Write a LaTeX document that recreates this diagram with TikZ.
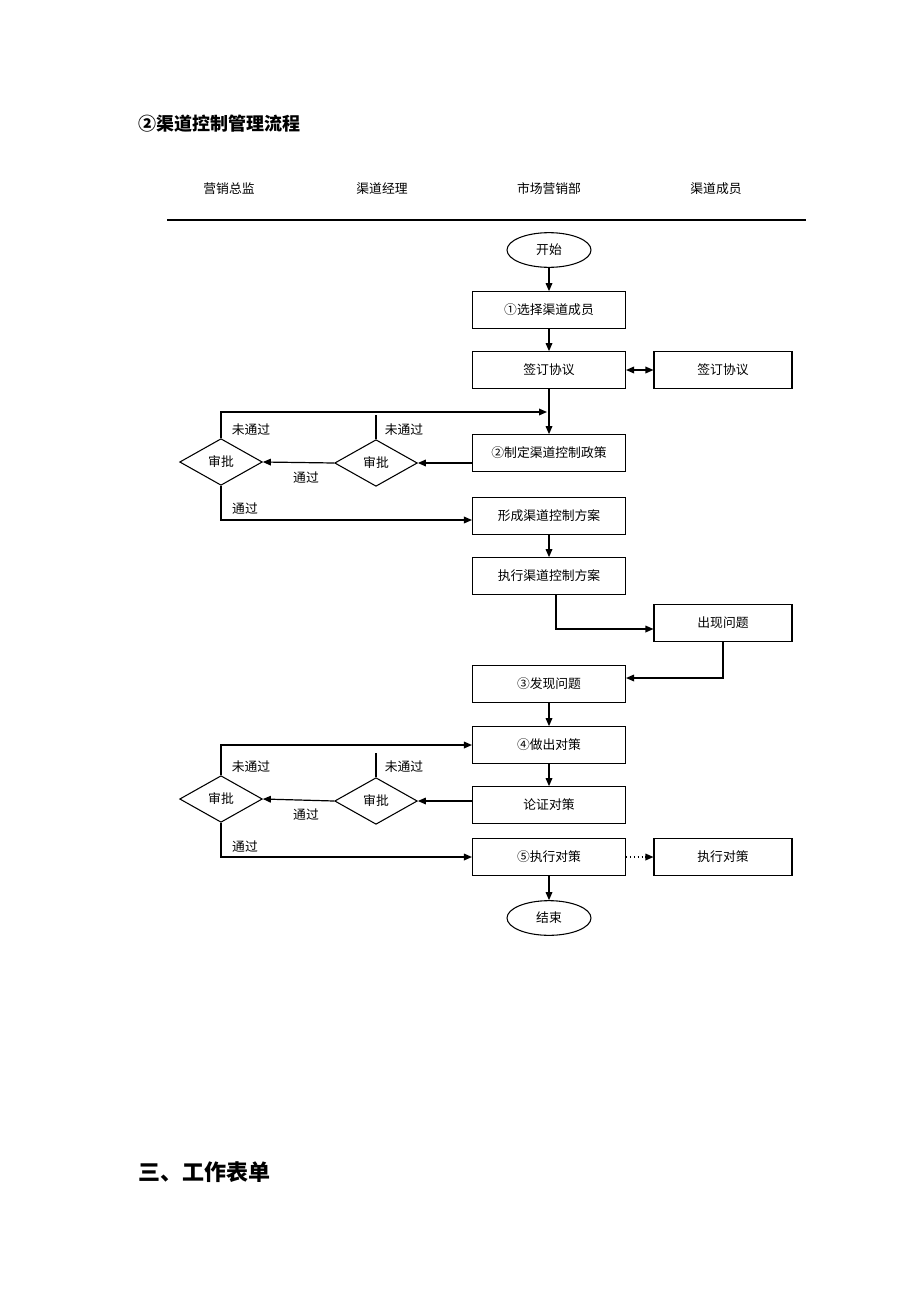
\documentclass[tikz,border=0pt]{standalone}
\usepackage{fontspec}
\setmainfont{Noto Sans CJK SC}
\usetikzlibrary{arrows.meta,shapes.geometric}
\begin{document}
\begin{tikzpicture}[x=0.75pt,y=-0.75pt,
  every node/.style={font=\fontsize{9.6pt}{11pt}\selectfont},
  box/.style={draw,line width=0.8pt,inner sep=0pt,minimum width=114.75pt,minimum height=27.5pt},
  sbox/.style={draw,line width=0.8pt,inner sep=0pt,minimum width=103.5pt,minimum height=27.5pt},
  term/.style={draw,ellipse,line width=0.8pt,inner sep=0pt,minimum width=63pt,minimum height=26pt},
  chk/.style={draw,diamond,line width=0.8pt,inner sep=0pt,minimum width=62pt,minimum height=35pt},
  conn/.style={line width=0.9pt},
  arr/.style={conn,-{Triangle[length=6pt,width=5pt]}},
  darr/.style={conn,{Triangle[length=6pt,width=5pt]}-{Triangle[length=6pt,width=5pt]}},
  lbl/.style={inner sep=0pt}
]
\useasboundingbox (0,0) rectangle (920,1302);

% title
\node[lbl,anchor=west,font=\fontsize{13.5pt}{15pt}\selectfont\bfseries] (title) at (138,124) {②渠道控制管理流程};
% swimlane headers
\node[lbl] (h1) at (229,189) {营销总监};
\node[lbl] (h2) at (382,189) {渠道经理};
\node[lbl] (h3) at (549,189) {市场营销部};
\node[lbl] (h4) at (716,189) {渠道成员};
\coordinate (rl) at (167,220);
\coordinate (rr) at (806,220);
\draw[line width=0.8pt] (rl) -- (rr);

% main column
\node[term] (start) at (549,250) {开始};
\node[box] (b1) at (549,310) {①选择渠道成员};
\node[box] (b2) at (549,370) {签订协议};
\node[sbox] (r1) at (723,370) {签订协议};
\node[box] (b3) at (549,453) {②制定渠道控制政策};
\node[box] (b4) at (549,516) {形成渠道控制方案};
\node[box] (b5) at (549,576) {执行渠道控制方案};
\node[sbox] (r2) at (723,623) {出现问题};
\node[box] (b6) at (549,684) {③发现问题};
\node[box] (b7) at (549,745) {④做出对策};
\node[box] (b8) at (549,805) {论证对策};
\node[box] (b9) at (549,857) {⑤执行对策};
\node[sbox] (r3) at (723,857) {执行对策};
\node[term] (end) at (549,918) {结束};

% diamonds
\node[chk] (d1a) at (221,462) {审批};
\node[chk] (d1b) at (376,463) {审批};
\node[chk] (d2a) at (221,799) {审批};
\node[chk] (d2b) at (376,801) {审批};

% labels
\node[lbl] (l1) at (251,430) {未通过};
\node[lbl] (l2) at (404,430) {未通过};
\node[lbl] (l3) at (306,478) {通过};
\node[lbl] (l4) at (245,509) {通过};
\node[lbl] (l5) at (251,767) {未通过};
\node[lbl] (l6) at (404,767) {未通过};
\node[lbl] (l7) at (306,815) {通过};
\node[lbl] (l8) at (245,847) {通过};

% connectors
\draw[arr] (start.south) -- (b1.north);
\draw[arr] (b1.south) -- (b2.north);
\draw[darr] (b2.east) -- (r1.west);
\draw[arr] (b2.south) -- (b3.north);
\coordinate (j1) at (547,412);
\draw[arr] (d1a.north) |- (j1);
\coordinate (t1) at (376,415);
\draw[conn] (d1b.north) -- (t1);
\draw[arr] (b3.west |- d1b.east) -- (d1b.east);
\draw[arr] (d1b.west) -- (d1a.east);
\draw[arr] (d1a.south) |- ([yshift=-3pt]b4.west);
\draw[arr] (b4.south) -- (b5.north);
\draw[arr] ([xshift=5.25pt]b5.south) |- ([yshift=-4.5pt]r2.west);
\draw[arr] (r2.south) |- ([yshift=4.5pt]b6.east);
\draw[arr] (b6.south) -- (b7.north);
\draw[arr] (b7.south) -- (b8.north);
\draw[arr] (d2a.north) |- (b7.west);
\coordinate (t2) at (376,753);
\draw[conn] (d2b.north) -- (t2);
\draw[arr] (b8.west |- d2b.east) -- (d2b.east);
\draw[arr] (d2b.west) -- (d2a.east);
\draw[arr] (d2a.south) |- (b9.west);
\draw[conn,dotted,-{Triangle[length=6pt,width=5pt]}] (b9.east) -- (r3.west);
\draw[arr] (b9.south) -- (end.north);

\node[lbl,anchor=west,font=\fontsize{16.5pt}{18pt}\selectfont\bfseries] (sec) at (138,1172) {三、工作表单};
\end{tikzpicture}
\end{document}
